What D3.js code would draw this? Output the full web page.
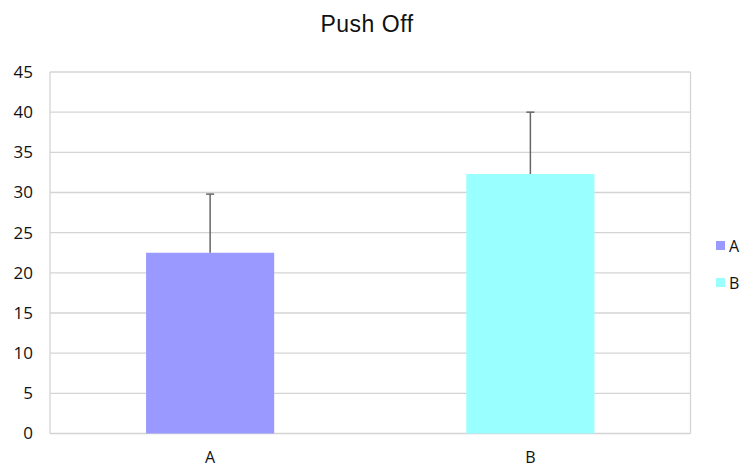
<!DOCTYPE html>
<html><head><meta charset="utf-8">
<script src="https://cdn.jsdelivr.net/npm/d3@7"></script>
<style>body{margin:0;background:#fff;} svg{display:block;}</style>
</head><body>
<svg id="c" width="742" height="468"></svg>
<script>
const categories = ["A", "B"];
const values = [22.5, 32.3];
const errors = [7.3, 7.7];
const colors = ["#9999ff", "#99ffff"];
const yTicks = [0, 5, 10, 15, 20, 25, 30, 35, 40, 45];
const title = "Push Off";

const svg = d3.select("#c");
const m = {l: 50, r: 690.5, t: 72, b: 433.5};
const x = d3.scaleBand().domain(categories).range([m.l, m.r]).paddingInner(0).paddingOuter(0);
const y = d3.scaleLinear().domain([0, 45]).range([m.b, m.t]);
const font = "'Open Sans', sans-serif";

svg.append("text").attr("x", 367).attr("y", 32).attr("text-anchor", "middle")
  .attr("font-family", "'Liberation Sans', Arial, sans-serif").attr("font-size", 23)
  .attr("letter-spacing", 0.5).attr("fill", "#111").text(title);

// grid
svg.append("g").selectAll("line").data(yTicks).join("line")
  .attr("x1", m.l).attr("x2", m.r).attr("y1", d => y(d)).attr("y2", d => y(d))
  .attr("stroke", "#d4d4d4").attr("stroke-width", 1.3);
svg.append("line").attr("x1", m.l).attr("x2", m.l).attr("y1", m.t).attr("y2", m.b).attr("stroke", "#d4d4d4").attr("stroke-width", 1.3);
svg.append("line").attr("x1", m.r).attr("x2", m.r).attr("y1", m.t).attr("y2", m.b).attr("stroke", "#d4d4d4").attr("stroke-width", 1.3);

// y axis
const yAxis = d3.axisLeft(y).tickValues(yTicks).tickSize(0).tickPadding(17);
const gy = svg.append("g").attr("transform", `translate(${m.l},0)`).call(yAxis);
gy.select(".domain").remove();
gy.selectAll("text").attr("font-family", font).attr("font-size", 17).attr("fill", "#111");

// x axis
const xAxis = d3.axisBottom(x).tickSize(0).tickPadding(18);
const gx = svg.append("g").attr("transform", `translate(0,${m.b})`).call(xAxis);
gx.select(".domain").remove();
gx.selectAll("text").attr("font-family", font).attr("font-size", 16).attr("fill", "#111");

// bars
const bw = x.bandwidth() * 0.4;
svg.append("g").selectAll("rect").data(categories).join("rect")
  .attr("x", d => x(d) + x.bandwidth() / 2 - bw / 2)
  .attr("width", bw)
  .attr("y", (d, i) => y(values[i]))
  .attr("height", (d, i) => y(0) - y(values[i]))
  .attr("fill", (d, i) => colors[i]);

// error bars
const eg = svg.append("g").attr("stroke", "#666").attr("stroke-width", 1.5);
categories.forEach((c, i) => {
  const cx = x(c) + x.bandwidth() / 2;
  eg.append("line").attr("x1", cx).attr("x2", cx).attr("y1", y(values[i])).attr("y2", y(values[i] + errors[i]));
  eg.append("line").attr("x1", cx - 4).attr("x2", cx + 4).attr("y1", y(values[i] + errors[i])).attr("y2", y(values[i] + errors[i]));
});

// legend
const lg = svg.append("g");
categories.forEach((c, i) => {
  const ly = 246 + i * 37;
  lg.append("rect").attr("x", 716).attr("y", ly - 5).attr("width", 9).attr("height", 9).attr("fill", colors[i]);
  lg.append("text").attr("x", 729).attr("y", ly + 6).attr("font-family", font).attr("font-size", 16).attr("fill", "#111").text(c);
});
</script>
</body></html>
